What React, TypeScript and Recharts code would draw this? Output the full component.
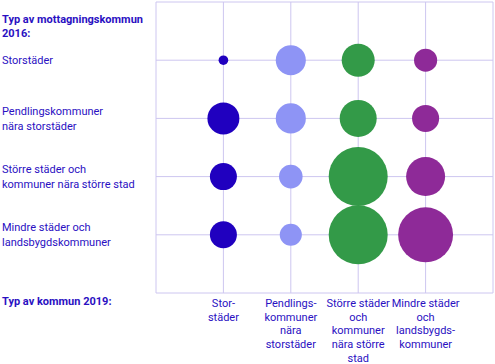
import { ScatterChart, Scatter, XAxis, YAxis, ZAxis, CartesianGrid } from 'recharts';

// rows from top to bottom: receiving municipality type 2016
const ROW_LABELS: string[][] = [
  ['Storstäder'],
  ['Pendlingskommuner', 'nära storstäder'],
  ['Större städer och', 'kommuner nära större stad'],
  ['Mindre städer och', 'landsbygdskommuner'],
];

// columns: municipality type 2019
const COL_LABELS: string[][] = [
  ['Stor-', 'städer'],
  ['Pendlings-', 'kommuner', 'nära', 'storstäder'],
  ['Större städer', 'och', 'kommuner', 'nära större', 'stad'],
  ['Mindre städer', 'och', 'landsbygds-', 'kommuner'],
];

const Y_TITLE = ['Typ av mottagningskommun', '2016:'];
const X_TITLE = 'Typ av kommun 2019:';

// bubble values per column, rows in the order above
const storstader = [0.8, 8.8, 6.3, 6.3];
const pendling = [7.8, 7.8, 4.8, 4.2];
const storreStader = [9.4, 11.8, 30, 30];
const mindreStader = [4.6, 6.3, 13.1, 26];

const SERIES = [
  { name: 'Storstäder', values: storstader, color: '#2000bf' },
  { name: 'Pendlingskommuner', values: pendling, color: '#8e94f5' },
  { name: 'Större städer', values: storreStader, color: '#339a48' },
  { name: 'Mindre städer', values: mindreStader, color: '#8e2a98' },
];

const TEXT = '#2a10c2';
const GRID = '#cdc6f0';
const FONT = 'Roboto, sans-serif';

const toPoints = (values: number[], col: number) =>
  values.map((v, i) => ({ x: col + 1, y: 4 - i, z: v }));

function YTick({ y, payload }: any) {
  const v = payload.value;
  if (v === 5) {
    return (
      <text x={2} y={y} fill={TEXT} fontSize={11} fontWeight={700} fontFamily={FONT}>
        {Y_TITLE.map((l, i) => (
          <tspan key={i} x={2} y={y + 17 + i * 14} dy="0.35em">{l}</tspan>
        ))}
      </text>
    );
  }
  if (v === 0) {
    return (
      <text x={2} y={y + 8} dy="0.35em" fill={TEXT} fontSize={11} fontWeight={700} fontFamily={FONT}>
        {X_TITLE}
      </text>
    );
  }
  const lines = ROW_LABELS[4 - v];
  const start = y - ((lines.length - 1) * 14.5) / 2;
  return (
    <text x={2} y={y} fill={TEXT} fontSize={11} fontFamily={FONT}>
      {lines.map((l, i) => (
        <tspan key={i} x={2} y={start + i * 14.5} dy="0.35em">{l}</tspan>
      ))}
    </text>
  );
}

function XTick({ x, y, payload }: any) {
  const v = payload.value;
  if (v < 1 || v > 4) return null;
  const lines = COL_LABELS[v - 1];
  return (
    <text x={x} y={y} fill={TEXT} fontSize={11} fontFamily={FONT} textAnchor="middle">
      {lines.map((l, i) => (
        <tspan key={i} x={x} y={y + 2 + i * 13.7} dy="0.35em">{l}</tspan>
      ))}
    </text>
  );
}

export default function App() {
  return (
    <div style={{ position: 'absolute', left: 0, top: 0, background: '#fff' }}>
      <ScatterChart width={495} height={364} margin={{ top: 2, right: 2, bottom: 0, left: 0 }}>
        <CartesianGrid stroke={GRID} strokeDasharray="" />
        <XAxis
          type="number"
          dataKey="x"
          domain={[0, 5]}
          ticks={[0, 1, 2, 3, 4, 5]}
          height={71}
          axisLine={false}
          tickLine={false}
          tick={<XTick />}
          interval={0}
        />
        <YAxis
          type="number"
          dataKey="y"
          domain={[0, 5]}
          ticks={[0, 1, 2, 3, 4, 5]}
          width={156}
          axisLine={false}
          tickLine={false}
          tick={<YTick />}
          interval={0}
        />
        <ZAxis type="number" dataKey="z" domain={[0, 30]} range={[0, 2734]} />
        {SERIES.map((s, i) => (
          <Scatter
            key={s.name}
            name={s.name}
            data={toPoints(s.values, i)}
            fill={s.color}
            isAnimationActive={false}
          />
        ))}
      </ScatterChart>
    </div>
  );
}
